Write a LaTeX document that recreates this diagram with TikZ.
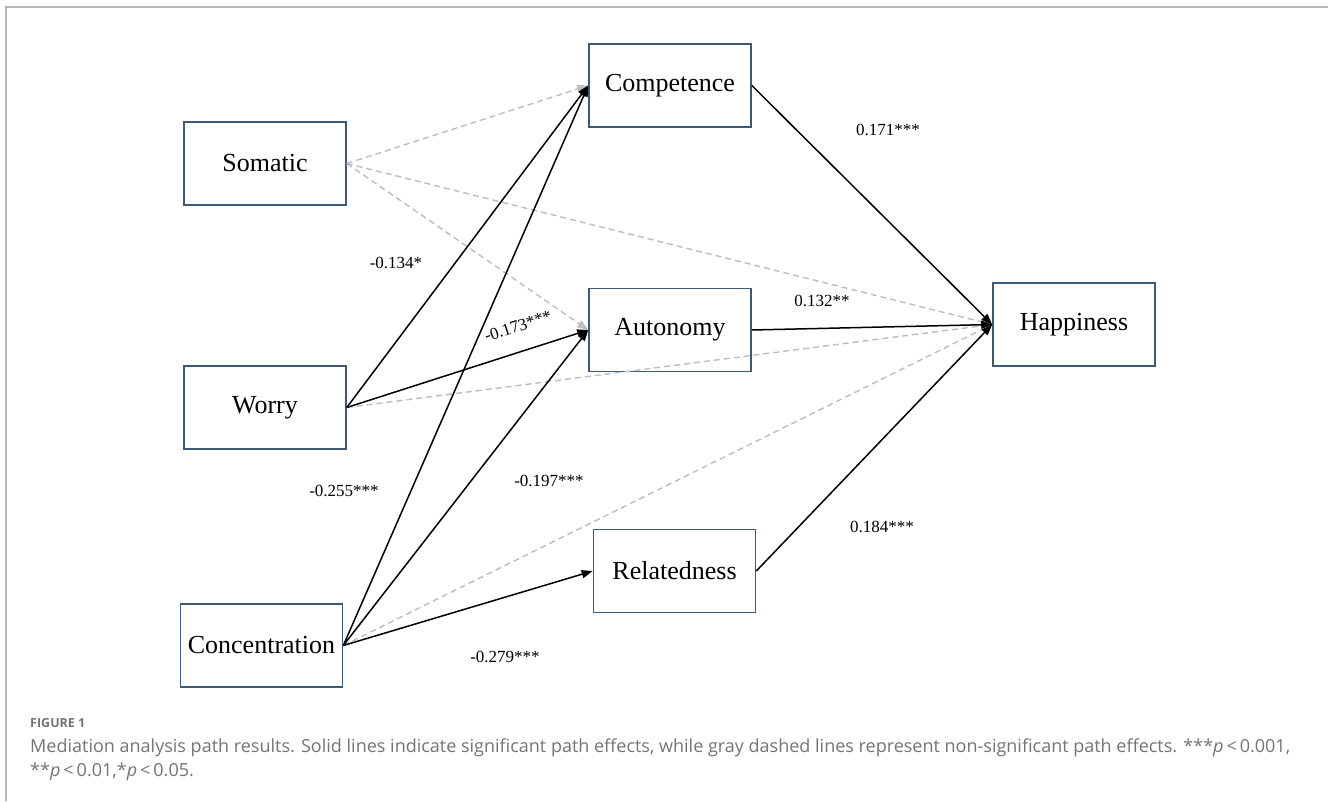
\documentclass[tikz,border=0pt]{standalone}
\usepackage{fontspec}
\setmainfont{Liberation Serif}
\newfontfamily\capfont{Open Sans}
\usetikzlibrary{arrows.meta}
\definecolor{boxc}{HTML}{3E5A78}
\definecolor{dashc}{HTML}{BDBDBD}
\definecolor{framec}{HTML}{B5B5B5}
\definecolor{capc}{HTML}{747474}
\tikzset{
  var/.style={draw=boxc, line width=1.6pt, minimum width=162pt, minimum height=83pt, inner sep=0pt, font=\fontsize{26}{30}\selectfont},
  sig/.style={draw=black, line width=1.5pt, -{Triangle[length=11pt,width=8pt]}},
  ns/.style={draw=dashc, line width=1.4pt, dash pattern=on 6pt off 4pt, -{Triangle[length=11pt,width=8pt,fill=dashc]}},
  lab/.style={font=\fontsize{17}{20}\selectfont, inner sep=0pt},
  captext/.style={font=\capfont\fontsize{18}{22}\selectfont, text=capc, inner sep=0pt, anchor=base west}
}
\begin{document}
\begin{tikzpicture}[x=1pt,y=-1pt]
\useasboundingbox (0,0) rectangle (1328,801);
\draw[framec, line width=2pt] (6,801) -- (6,7) -- (1328,7);
\node[var] (som) at (265,163.5) {Somatic};
\node[var] (wor) at (265,407.5) {Worry};
\node[var] (con) at (261.5,645.5) {Concentration};
\node[var] (comp) at (670,85.5) {Competence};
\node[var] (aut) at (670,330) {Autonomy};
\node[var] (rel) at (674.5,571) {Relatedness};
\node[var] (hap) at (1074,324.5) {Happiness};
% non-significant
\draw[ns] (som.east) -- (comp.west);
\draw[ns] (som.east) -- (aut.west);
\draw[ns] (som.east) -- (hap.west);
\draw[ns] (wor.east) -- (hap.west);
\draw[ns] (con.east) -- (hap.west);
% significant
\draw[sig] (wor.east) -- (comp.west);
\draw[sig] (wor.east) -- (aut.west);
\draw[sig] (con.east) -- (comp.west);
\draw[sig] (con.east) -- (aut.west);
\draw[sig] (con.east) -- (rel.west);
\draw[sig] (comp.east) -- (hap.west);
\draw[sig] (aut.east) -- (hap.west);
\draw[sig] (rel.east) -- (hap.west);
% labels
\node[lab] (l1) at (888,130) {0.171***};
\node[lab] (l2) at (396,263) {-0.134*};
\node[lab, rotate=18] (l3) at (518,326) {-0.173***};
\node[lab] (l4) at (822,301) {0.132**};
\node[lab] (l5) at (549,481) {-0.197***};
\node[lab] (l6) at (344,491) {-0.255***};
\node[lab] (l7) at (882,527) {0.184***};
\node[lab] (l8) at (505,657) {-0.279***};
% caption
\node[captext, font=\capfont\bfseries\fontsize{12.5}{15}\selectfont] (fig) at (30,727) {FIGURE 1};
\node[captext] (c1) at (30,752) {Mediation analysis path results. Solid lines indicate significant path effects, while gray dashed lines represent non-significant path effects. ***\textit{p}\,<\,0.001,};
\node[captext] (c2) at (30,776) {**\textit{p}\,<\,0.01,*\textit{p}\,<\,0.05.};
\end{tikzpicture}
\end{document}
